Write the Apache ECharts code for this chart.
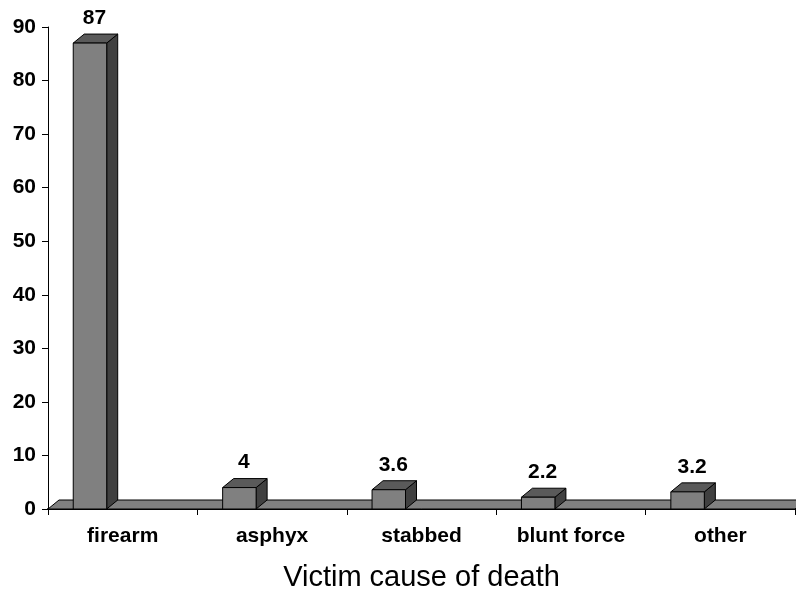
<!DOCTYPE html>
<html>
<head>
<meta charset="utf-8">
<script src="https://cdn.jsdelivr.net/npm/echarts@6/dist/echarts.min.js"></script>
<style>
html,body{margin:0;padding:0;background:#fff;}
#chart{width:796px;height:597px;}
</style>
</head>
<body>
<div id="chart"></div>
<script>
var categories = ['firearm', 'asphyx', 'stabbed', 'blunt force', 'other'];
var values = [87, 4, 3.6, 2.2, 3.2];
var yTicks = [0, 10, 20, 30, 40, 50, 60, 70, 80, 90];

var DX = 11, DY = 9;
var FONT = 'Liberation Sans, Arial, Helvetica, sans-serif';

var chart = echarts.init(document.getElementById('chart'), null, {renderer: 'canvas'});

function floorItem(params, api) {
  var cs = params.coordSys;
  var x0 = cs.x, x1 = cs.x + cs.width, yb = cs.y + cs.height;
  return {
    type: 'polygon',
    shape: {points: [[x0, yb], [x1, yb], [x1 + DX, yb - DY], [x0 + DX, yb - DY]]},
    style: {fill: '#808080', stroke: '#000', lineWidth: 1}
  };
}

function barItem(params, api) {
  var idx = api.value(0);
  var v = api.value(1);
  var top = api.coord([idx, v]);
  var base = api.coord([idx, 0]);
  var band = api.size([1, 0])[0];
  var cx = top[0];
  var left = cx - band * 0.331;
  var right = cx - band * 0.107;
  var yt = top[1], yb = base[1];
  var st = {stroke: '#000', lineWidth: 1, lineJoin: 'miter'};
  return {
    type: 'group',
    children: [
      {type: 'polygon', shape: {points: [[right, yt], [right + DX, yt - DY], [right + DX, yb - DY], [right, yb]]},
        style: Object.assign({fill: '#404040'}, st)},
      {type: 'polygon', shape: {points: [[left, yt], [left + DX, yt - DY], [right + DX, yt - DY], [right, yt]]},
        style: Object.assign({fill: '#5a5a5a'}, st)},
      {type: 'rect', shape: {x: left, y: yt, width: right - left, height: yb - yt},
        style: Object.assign({fill: '#808080'}, st)},
      {type: 'text', style: {
        text: String(api.value(1)),
        x: (left + right + DX) / 2 - 1, y: yt - DY - 16,
        align: 'center', verticalAlign: 'middle',
        font: 'bold 21px ' + FONT, fill: '#000'
      }}
    ]
  };
}

var option = {
  backgroundColor: '#fff',
  animation: false,
  grid: {left: 48, right: 1, top: 27, bottom: 88, containLabel: false},
  xAxis: {
    type: 'category',
    data: categories,
    boundaryGap: true,
    name: 'Victim cause of death',
    nameLocation: 'middle',
    nameGap: 54,
    nameTextStyle: {fontFamily: FONT, fontSize: 29, color: '#000', verticalAlign: 'top'},
    axisLine: {lineStyle: {color: '#000', width: 2}},
    axisTick: {show: true, length: 6, lineStyle: {color: '#000', width: 1}},
    axisLabel: {fontFamily: FONT, fontWeight: 'bold', fontSize: 21, color: '#000', margin: 17}
  },
  yAxis: {
    type: 'value',
    min: yTicks[0],
    max: yTicks[yTicks.length - 1],
    interval: 10,
    axisLine: {show: true, lineStyle: {color: '#000', width: 1}},
    axisTick: {show: true, length: 6, lineStyle: {color: '#000'}},
    splitLine: {show: false},
    axisLabel: {fontFamily: FONT, fontWeight: 'bold', fontSize: 21, color: '#000', margin: 12}
  },
  series: [
    {
      type: 'custom',
      renderItem: floorItem,
      data: [[0, 0]],
      clip: false,
      z: 1,
      silent: true
    },
    {
      type: 'custom',
      renderItem: barItem,
      data: values.map(function (v, i) { return [i, v]; }),
      clip: false,
      z: 2
    }
  ]
};
chart.setOption(option);
</script>
</body>
</html>
